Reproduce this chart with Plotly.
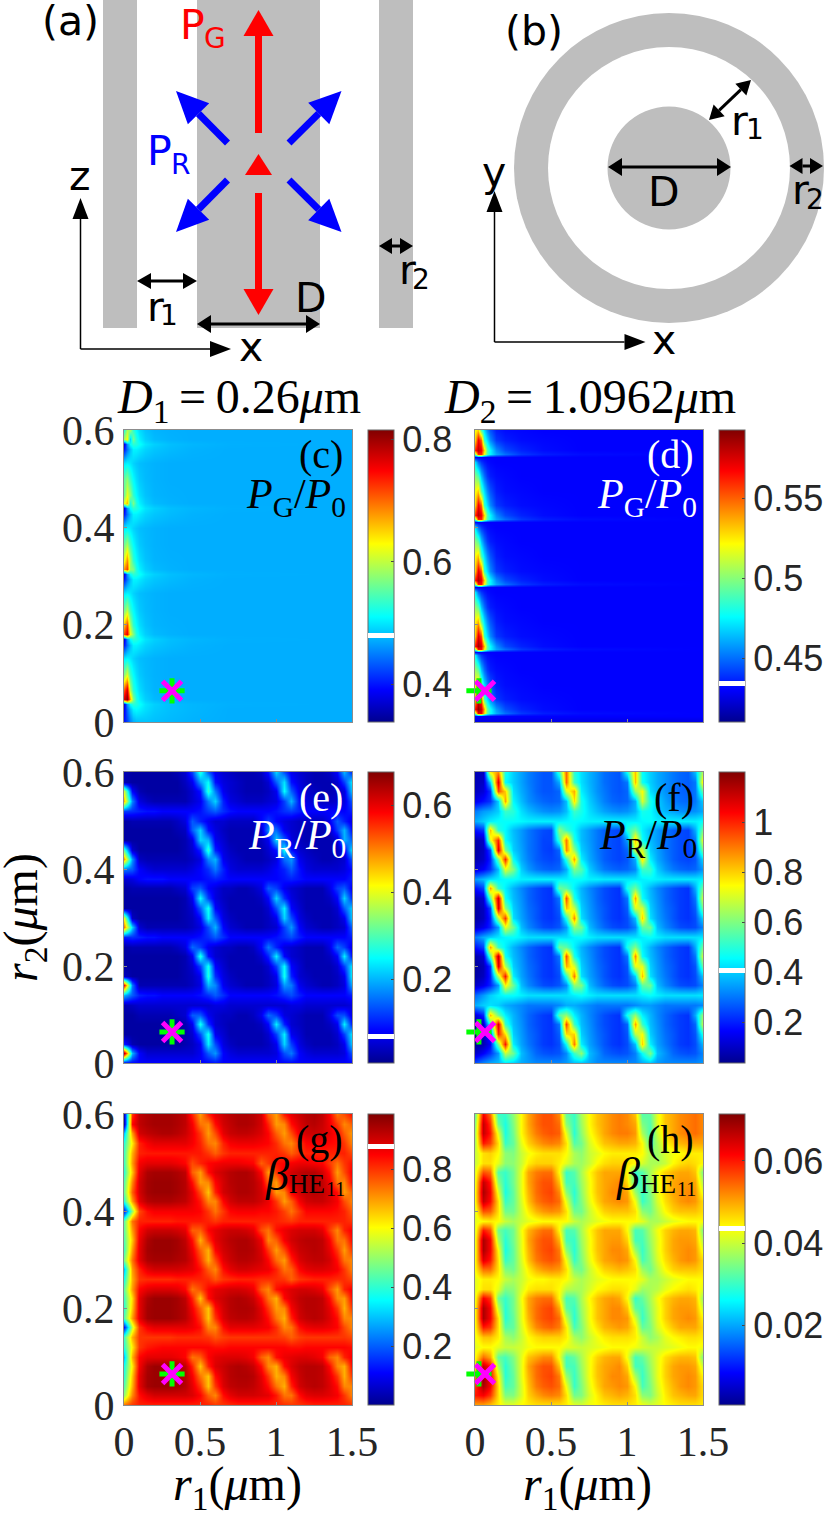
import plotly.graph_objects as go

W = 830
H = 1513

# columns/rows of the left-edge panels (c, d), their features sit close to r1 = 0
edge_r1 = [0, .02, .04, .06, .08, .10, .14, .20, .30, .45, .70, 1.5]
c_r2 = [.60, .582, .572, .56, .532, .499, .467, .449, .439, .427, .399, .365, .333, .315, .305,
        .293, .265, .231, .199, .181, .171, .159, .131, .098, .066, .048, .038, .026, 0]
d_r2 = [.60, .579, .559, .551, .545, .535, .505, .475, .445, .425, .417, .411, .401, .371, .341,
        .311, .291, .283, .277, .267, .237, .207, .177, .157, .149, .143, .137, .107, .077, .047,
        .027, .019, .013, 0]

# columns/rows of the periodic panels (e, f, g, h)
grid_r1 = [0, .05, .1, .15, .2, .25, .3, .35, .4, .45, .5, .55, .6, .65, .7, .75, .8, .85, .9, .95,
           1, 1.05, 1.1, 1.15, 1.2, 1.25, 1.3, 1.35, 1.4, 1.45, 1.5]
grid_r2 = [.60, .58, .56, .54, .52, .50, .48, .46, .44, .42, .40, .38, .36, .34, .32, .30, .28, .26,
           .24, .22, .20, .18, .16, .14, .12, .10, .08, .06, .04, .02, 0]

# P_G/P_0, D1, in units of 0.001, top row first
c_vals = [
    [530, 590, 580, 530, 510, 495, 482, 475, 473, 472, 472, 472],
    [590, 630, 490, 565, 525, 505, 488, 478, 474, 472, 472, 472],
    [375, 460, 510, 530, 525, 515, 498, 488, 480, 476, 473, 472],
    [400, 445, 480, 505, 505, 500, 490, 483, 478, 474, 472, 472],
    [500, 505, 500, 490, 484, 480, 477, 474, 472, 472, 472, 472],
    [555, 575, 535, 510, 495, 485, 478, 474, 472, 472, 472, 472],
    [560, 620, 580, 530, 510, 495, 482, 475, 473, 472, 472, 472],
    [620, 660, 520, 570, 525, 505, 488, 478, 474, 472, 472, 472],
    [375, 460, 510, 530, 525, 515, 498, 488, 480, 476, 473, 472],
    [400, 445, 480, 505, 505, 500, 490, 483, 478, 474, 472, 472],
    [500, 505, 500, 490, 484, 480, 477, 474, 472, 472, 472, 472],
    [560, 585, 535, 510, 495, 485, 478, 474, 472, 472, 472, 472],
    [620, 680, 585, 530, 510, 495, 482, 475, 473, 472, 472, 472],
    [680, 720, 580, 570, 525, 505, 488, 478, 474, 472, 472, 472],
    [375, 460, 510, 530, 525, 515, 498, 488, 480, 476, 473, 472],
    [400, 445, 480, 505, 505, 500, 490, 483, 478, 474, 472, 472],
    [500, 505, 500, 490, 484, 480, 477, 474, 472, 472, 472, 472],
    [565, 595, 535, 510, 495, 485, 478, 474, 472, 472, 472, 472],
    [660, 720, 590, 530, 510, 495, 482, 475, 473, 472, 472, 472],
    [720, 760, 620, 570, 525, 505, 488, 478, 474, 472, 472, 472],
    [375, 460, 510, 530, 525, 515, 498, 488, 480, 476, 473, 472],
    [400, 445, 480, 505, 505, 500, 490, 483, 478, 474, 472, 472],
    [500, 505, 500, 490, 484, 480, 477, 474, 472, 472, 472, 472],
    [570, 610, 535, 510, 495, 485, 478, 474, 472, 472, 472, 472],
    [710, 770, 595, 530, 510, 495, 482, 475, 473, 472, 472, 472],
    [770, 810, 670, 570, 525, 505, 488, 478, 474, 472, 472, 472],
    [375, 460, 510, 530, 525, 515, 498, 488, 480, 476, 473, 472],
    [385, 440, 480, 505, 510, 505, 495, 486, 480, 476, 472, 472],
    [400, 420, 450, 470, 478, 480, 482, 480, 477, 474, 472, 472],
]

# P_G/P_0, D2, in units of 0.001
d_vals = [
    [520, 530, 490, 470, 455, 445, 435, 432, 431, 430, 430, 430],
    [530, 570, 550, 485, 470, 455, 440, 435, 432, 431, 430, 430],
    [560, 580, 570, 530, 490, 475, 455, 443, 436, 432, 430, 430],
    [500, 560, 560, 520, 490, 475, 460, 450, 440, 435, 432, 430],
    [430, 430, 430, 430, 430, 430, 430, 430, 430, 430, 430, 430],
    [470, 450, 440, 435, 432, 431, 430, 430, 430, 430, 430, 430],
    [500, 490, 465, 450, 440, 435, 432, 431, 430, 430, 430, 430],
    [520, 530, 490, 470, 455, 445, 435, 432, 431, 430, 430, 430],
    [530, 570, 550, 485, 470, 455, 440, 435, 432, 431, 430, 430],
    [560, 582, 570, 530, 490, 475, 455, 443, 436, 432, 430, 430],
    [500, 562, 562, 520, 490, 475, 460, 450, 440, 435, 432, 430],
    [430, 430, 430, 430, 430, 430, 430, 430, 430, 430, 430, 430],
    [470, 450, 440, 435, 432, 431, 430, 430, 430, 430, 430, 430],
    [500, 490, 465, 450, 440, 435, 432, 431, 430, 430, 430, 430],
    [522, 532, 490, 470, 455, 445, 435, 432, 431, 430, 430, 430],
    [532, 572, 552, 485, 470, 455, 440, 435, 432, 431, 430, 430],
    [562, 584, 572, 532, 490, 475, 455, 443, 436, 432, 430, 430],
    [500, 564, 564, 522, 490, 475, 460, 450, 440, 435, 432, 430],
    [430, 430, 430, 430, 430, 430, 430, 430, 430, 430, 430, 430],
    [472, 450, 440, 435, 432, 431, 430, 430, 430, 430, 430, 430],
    [502, 492, 465, 450, 440, 435, 432, 431, 430, 430, 430, 430],
    [522, 534, 492, 470, 455, 445, 435, 432, 431, 430, 430, 430],
    [532, 574, 554, 486, 470, 455, 440, 435, 432, 431, 430, 430],
    [564, 586, 574, 534, 492, 476, 456, 443, 436, 432, 430, 430],
    [502, 566, 566, 524, 492, 476, 460, 450, 440, 435, 432, 430],
    [430, 430, 430, 430, 430, 430, 430, 430, 430, 430, 430, 430],
    [474, 452, 440, 435, 432, 431, 430, 430, 430, 430, 430, 430],
    [504, 494, 466, 450, 440, 435, 432, 431, 430, 430, 430, 430],
    [524, 536, 494, 470, 455, 445, 435, 432, 431, 430, 430, 430],
    [534, 576, 556, 488, 470, 455, 440, 435, 432, 431, 430, 430],
    [566, 590, 578, 536, 494, 478, 458, 444, 436, 432, 430, 430],
    [504, 570, 570, 528, 494, 478, 462, 450, 440, 435, 432, 430],
    [430, 430, 430, 430, 430, 430, 430, 430, 430, 430, 430, 430],
    [425, 425, 425, 425, 425, 425, 425, 425, 425, 425, 425, 425],
]

# P_R/P_0, D1, in units of 0.01
e_vals = [
    [3, 2, 2, 2, 2, 2, 2, 3, 5, 12, 27, 14, 7, 5, 4, 3, 3, 3, 4, 9, 22, 13, 7, 5, 4, 3, 3, 4, 8, 20, 10],
    [3, 2, 2, 2, 2, 2, 2, 2, 4, 7, 18, 25, 9, 6, 5, 4, 3, 3, 3, 5, 14, 23, 9, 6, 4, 3, 3, 3, 5, 12, 24],
    [38, 8, 3, 2, 2, 2, 2, 2, 3, 5, 9, 28, 16, 7, 5, 4, 3, 3, 3, 4, 7, 25, 14, 7, 5, 4, 3, 3, 4, 6, 22],
    [46, 17, 6, 4, 3, 3, 3, 3, 3, 5, 7, 16, 22, 10, 6, 5, 4, 4, 4, 5, 6, 12, 20, 9, 6, 5, 4, 4, 5, 6, 14],
    [12, 11, 10, 9, 9, 8, 8, 8, 8, 8, 9, 12, 14, 11, 9, 8, 8, 8, 8, 8, 9, 11, 12, 10, 8, 8, 8, 8, 8, 8, 10],
    [2, 3, 3, 3, 3, 3, 3, 4, 6, 14, 10, 7, 5, 5, 4, 4, 4, 4, 8, 12, 8, 6, 5, 4, 4, 4, 4, 7, 14, 10, 6],
    [2, 2, 2, 2, 2, 2, 2, 3, 4, 14, 22, 9, 6, 4, 3, 3, 3, 3, 5, 17, 15, 7, 5, 4, 3, 3, 3, 4, 12, 20, 8],
    [2, 2, 2, 2, 2, 2, 2, 2, 3, 6, 22, 20, 7, 5, 3, 3, 3, 3, 4, 7, 22, 14, 6, 4, 3, 3, 3, 3, 5, 20, 14],
    [30, 5, 2, 2, 2, 2, 2, 2, 3, 5, 10, 28, 10, 6, 4, 3, 3, 3, 3, 5, 9, 25, 9, 5, 4, 3, 3, 3, 4, 7, 24],
    [48, 18, 4, 3, 3, 3, 3, 3, 3, 4, 6, 17, 20, 7, 5, 4, 3, 3, 3, 4, 6, 15, 18, 7, 5, 4, 3, 3, 4, 5, 14],
    [16, 14, 8, 6, 5, 5, 5, 5, 5, 6, 8, 11, 16, 10, 6, 5, 5, 5, 5, 6, 8, 10, 14, 9, 6, 5, 5, 5, 5, 6, 9],
    [5, 6, 8, 9, 9, 9, 8, 8, 8, 8, 8, 9, 10, 9, 8, 8, 8, 8, 8, 8, 8, 9, 10, 9, 8, 8, 8, 8, 8, 8, 10],
    [2, 3, 3, 3, 3, 3, 3, 4, 5, 12, 14, 8, 6, 4, 4, 3, 3, 4, 6, 14, 12, 7, 5, 4, 3, 3, 3, 6, 12, 14, 7],
    [2, 2, 2, 2, 2, 2, 2, 2, 3, 7, 25, 12, 6, 4, 3, 3, 3, 3, 4, 8, 22, 11, 6, 4, 3, 3, 3, 4, 8, 22, 10],
    [2, 2, 2, 2, 2, 2, 2, 2, 3, 5, 14, 26, 8, 5, 3, 3, 3, 3, 3, 5, 13, 24, 8, 5, 3, 3, 3, 3, 5, 14, 22],
    [40, 4, 2, 2, 2, 2, 2, 2, 3, 4, 8, 24, 14, 6, 4, 3, 3, 3, 3, 4, 7, 22, 13, 6, 4, 3, 3, 3, 4, 7, 22],
    [50, 22, 5, 3, 3, 3, 3, 3, 3, 4, 6, 13, 20, 8, 5, 4, 3, 3, 3, 4, 5, 12, 18, 8, 5, 4, 3, 3, 4, 5, 15],
    [10, 11, 10, 9, 9, 8, 8, 8, 8, 8, 9, 11, 14, 11, 8, 8, 8, 8, 8, 8, 9, 11, 13, 10, 8, 8, 8, 8, 8, 8, 10],
    [2, 3, 3, 3, 3, 3, 3, 4, 6, 15, 12, 7, 5, 4, 4, 3, 3, 4, 8, 16, 10, 6, 5, 4, 3, 3, 3, 6, 15, 12, 6],
    [2, 2, 2, 2, 2, 2, 2, 2, 3, 7, 27, 9, 5, 4, 3, 3, 3, 3, 5, 10, 24, 8, 5, 4, 3, 3, 3, 4, 8, 24, 8],
    [2, 2, 2, 2, 2, 2, 2, 2, 3, 5, 12, 26, 8, 5, 3, 3, 3, 3, 3, 5, 12, 25, 8, 5, 3, 3, 3, 3, 5, 12, 24],
    [4, 2, 2, 2, 2, 2, 2, 2, 3, 4, 7, 27, 11, 6, 4, 3, 3, 3, 3, 4, 7, 26, 10, 5, 4, 3, 3, 3, 4, 7, 25],
    [58, 16, 3, 3, 3, 3, 3, 3, 3, 4, 6, 20, 17, 7, 5, 4, 3, 3, 3, 4, 6, 18, 16, 7, 5, 4, 3, 3, 4, 6, 20],
    [20, 14, 10, 9, 9, 8, 8, 8, 8, 8, 9, 11, 14, 11, 8, 8, 8, 8, 8, 8, 9, 11, 13, 10, 8, 8, 8, 8, 8, 8, 10],
    [3, 4, 5, 5, 5, 5, 5, 5, 5, 5, 5, 5, 6, 6, 5, 5, 5, 5, 5, 5, 5, 5, 6, 6, 5, 5, 5, 5, 5, 5, 6],
    [2, 2, 3, 3, 3, 3, 3, 4, 5, 14, 14, 7, 5, 4, 4, 3, 3, 4, 7, 15, 12, 6, 5, 4, 3, 3, 3, 6, 13, 13, 6],
    [2, 2, 2, 2, 2, 2, 2, 2, 3, 7, 26, 11, 5, 4, 3, 3, 3, 3, 4, 8, 24, 10, 5, 4, 3, 3, 3, 4, 7, 24, 9],
    [2, 2, 2, 2, 2, 2, 2, 2, 3, 5, 13, 26, 7, 5, 3, 3, 3, 3, 3, 5, 12, 24, 7, 5, 3, 3, 3, 3, 5, 12, 24],
    [10, 3, 2, 2, 2, 2, 2, 2, 3, 4, 7, 24, 13, 6, 4, 3, 3, 3, 3, 4, 7, 22, 12, 6, 4, 3, 3, 3, 4, 7, 22],
    [64, 20, 8, 5, 5, 5, 5, 5, 5, 5, 7, 14, 18, 8, 6, 5, 5, 5, 5, 5, 6, 13, 16, 8, 6, 5, 5, 5, 5, 6, 14],
    [6, 8, 8, 8, 8, 8, 8, 8, 8, 8, 8, 8, 9, 8, 8, 8, 8, 8, 8, 8, 8, 8, 8, 8, 8, 8, 8, 8, 8, 8, 8],
]

# P_R/P_0, D2, in units of 0.01
f_vals = [
    [8, 9, 75, 88, 48, 40, 35, 31, 28, 26, 26, 52, 92, 50, 42, 37, 33, 29, 27, 26, 47, 82, 46, 40, 36, 33, 30, 28, 27, 38, 68],
    [8, 10, 40, 108, 46, 40, 35, 31, 28, 26, 26, 36, 92, 52, 42, 37, 33, 29, 27, 26, 30, 82, 47, 40, 36, 33, 30, 28, 27, 30, 80],
    [9, 12, 22, 95, 80, 42, 36, 32, 28, 26, 26, 28, 70, 84, 44, 38, 33, 30, 27, 26, 28, 62, 74, 42, 37, 33, 30, 28, 27, 30, 58],
    [14, 18, 22, 40, 85, 45, 38, 33, 30, 28, 27, 28, 38, 78, 48, 40, 35, 31, 28, 27, 28, 36, 70, 48, 40, 35, 31, 29, 28, 30, 40],
    [30, 34, 36, 40, 52, 50, 42, 38, 35, 33, 32, 33, 38, 52, 48, 42, 38, 35, 33, 32, 33, 37, 48, 46, 40, 37, 35, 33, 32, 33, 36],
    [36, 40, 44, 46, 46, 46, 45, 44, 44, 44, 44, 44, 45, 46, 45, 44, 44, 44, 44, 44, 44, 44, 45, 46, 44, 44, 44, 44, 44, 44, 46],
    [18, 22, 82, 50, 45, 38, 34, 30, 27, 25, 24, 62, 52, 45, 38, 34, 30, 27, 25, 24, 50, 58, 44, 38, 34, 30, 27, 25, 24, 36, 60],
    [7, 10, 70, 100, 46, 39, 34, 30, 27, 24, 24, 52, 90, 48, 38, 34, 30, 27, 25, 24, 34, 82, 46, 38, 34, 30, 27, 25, 24, 30, 75],
    [6, 9, 24, 108, 60, 40, 35, 30, 27, 24, 23, 28, 88, 62, 40, 35, 30, 27, 25, 24, 28, 68, 70, 40, 35, 30, 27, 25, 24, 28, 60],
    [7, 10, 20, 58, 100, 46, 36, 31, 27, 25, 24, 26, 50, 85, 44, 36, 31, 27, 25, 24, 26, 36, 78, 44, 36, 31, 27, 25, 24, 26, 42],
    [12, 16, 22, 38, 72, 60, 40, 34, 30, 28, 27, 28, 36, 60, 55, 40, 34, 30, 28, 27, 28, 32, 52, 52, 40, 34, 30, 28, 27, 28, 34],
    [34, 38, 42, 44, 46, 46, 44, 44, 44, 44, 44, 44, 44, 46, 46, 44, 44, 43, 43, 43, 43, 43, 44, 45, 44, 43, 43, 43, 43, 43, 44],
    [18, 24, 85, 52, 44, 37, 32, 28, 25, 23, 22, 58, 55, 44, 37, 32, 28, 25, 23, 22, 48, 58, 44, 37, 32, 28, 25, 23, 22, 36, 60],
    [8, 11, 55, 110, 47, 38, 33, 28, 25, 23, 22, 30, 95, 48, 38, 33, 28, 25, 23, 22, 30, 85, 46, 38, 33, 28, 25, 23, 22, 30, 72],
    [6, 9, 24, 108, 62, 40, 34, 29, 26, 23, 22, 27, 82, 68, 40, 34, 29, 26, 23, 22, 27, 70, 70, 40, 34, 29, 26, 23, 22, 27, 60],
    [6, 9, 20, 66, 98, 42, 35, 30, 26, 23, 22, 25, 48, 88, 42, 35, 30, 26, 23, 22, 25, 38, 80, 42, 35, 30, 26, 23, 22, 25, 42],
    [10, 14, 20, 34, 72, 58, 38, 32, 28, 25, 24, 26, 34, 62, 58, 38, 32, 28, 25, 24, 25, 31, 56, 58, 38, 32, 28, 25, 24, 25, 32],
    [30, 36, 40, 43, 45, 46, 44, 42, 42, 42, 42, 42, 42, 45, 46, 44, 42, 42, 42, 42, 42, 42, 44, 46, 44, 42, 42, 42, 42, 42, 43],
    [18, 24, 85, 52, 44, 37, 32, 28, 25, 23, 22, 58, 56, 44, 37, 32, 28, 25, 23, 22, 48, 60, 44, 37, 32, 28, 25, 23, 22, 36, 60],
    [7, 11, 55, 112, 47, 38, 33, 28, 25, 23, 22, 30, 95, 48, 38, 33, 28, 25, 23, 22, 30, 88, 46, 38, 33, 28, 25, 23, 22, 30, 72],
    [5, 8, 22, 108, 66, 40, 34, 29, 26, 23, 22, 27, 84, 70, 40, 34, 29, 26, 23, 22, 26, 72, 72, 40, 34, 29, 26, 23, 22, 26, 58],
    [6, 9, 20, 66, 102, 44, 35, 30, 26, 23, 22, 25, 50, 90, 42, 35, 30, 26, 23, 22, 25, 40, 82, 42, 35, 30, 26, 23, 22, 25, 40],
    [10, 14, 20, 34, 76, 58, 38, 32, 28, 25, 24, 26, 32, 62, 60, 38, 32, 28, 25, 24, 25, 31, 56, 58, 38, 32, 28, 25, 24, 25, 32],
    [28, 34, 40, 44, 46, 46, 44, 42, 42, 42, 42, 42, 42, 44, 46, 44, 42, 42, 42, 42, 42, 42, 44, 46, 44, 42, 42, 42, 42, 42, 43],
    [36, 40, 42, 40, 36, 34, 32, 30, 30, 30, 30, 32, 36, 36, 34, 32, 30, 30, 30, 30, 30, 32, 34, 34, 32, 30, 30, 30, 30, 30, 32],
    [12, 20, 82, 58, 44, 37, 32, 28, 25, 23, 22, 56, 62, 44, 37, 32, 28, 25, 23, 22, 48, 62, 44, 37, 32, 28, 25, 23, 22, 36, 64],
    [6, 9, 50, 108, 52, 38, 33, 28, 25, 23, 22, 30, 96, 52, 38, 33, 28, 25, 23, 22, 28, 85, 52, 38, 33, 28, 25, 23, 22, 28, 70],
    [5, 8, 22, 100, 78, 40, 34, 29, 26, 23, 22, 27, 78, 80, 40, 34, 29, 26, 23, 22, 26, 66, 74, 40, 34, 29, 26, 23, 22, 26, 50],
    [5, 8, 16, 60, 102, 44, 35, 30, 26, 23, 22, 25, 46, 90, 44, 35, 30, 26, 23, 22, 25, 38, 80, 44, 35, 30, 26, 23, 22, 25, 38],
    [10, 16, 22, 34, 68, 58, 38, 33, 28, 26, 25, 26, 32, 52, 62, 38, 33, 28, 26, 25, 26, 31, 46, 60, 38, 33, 28, 26, 25, 26, 32],
    [26, 32, 36, 38, 42, 40, 36, 34, 32, 32, 32, 32, 34, 38, 38, 36, 32, 32, 32, 32, 32, 32, 36, 38, 34, 32, 32, 32, 32, 32, 34],
]

# beta, D1, in units of 0.01
g_vals = [
    [6, 80, 92, 94, 95, 95, 95, 94, 92, 82, 70, 82, 88, 91, 93, 94, 94, 93, 90, 76, 70, 83, 88, 91, 93, 94, 92, 86, 74, 78, 84],
    [4, 85, 92, 94, 95, 95, 95, 94, 92, 86, 74, 72, 84, 90, 92, 94, 94, 93, 90, 82, 70, 72, 84, 89, 92, 93, 91, 87, 80, 72, 76],
    [30, 70, 90, 92, 93, 94, 94, 93, 91, 87, 80, 70, 78, 88, 91, 92, 92, 91, 89, 85, 76, 70, 78, 87, 90, 91, 90, 88, 84, 76, 70],
    [40, 62, 82, 86, 88, 88, 88, 88, 88, 86, 82, 74, 72, 82, 86, 87, 87, 87, 86, 85, 81, 74, 72, 80, 85, 86, 86, 85, 84, 80, 72],
    [42, 68, 82, 83, 83, 83, 83, 83, 83, 83, 83, 80, 76, 80, 82, 82, 82, 82, 82, 82, 82, 80, 76, 80, 82, 82, 82, 82, 82, 82, 78],
    [42, 70, 86, 88, 88, 88, 88, 87, 85, 78, 82, 85, 86, 87, 87, 87, 86, 85, 76, 80, 84, 85, 86, 87, 87, 86, 85, 80, 74, 80, 84],
    [40, 66, 88, 94, 95, 95, 95, 94, 92, 76, 70, 84, 89, 91, 93, 94, 94, 92, 85, 70, 80, 87, 90, 92, 93, 93, 90, 84, 70, 78, 86],
    [44, 72, 90, 95, 96, 96, 96, 95, 93, 84, 70, 72, 85, 90, 93, 94, 94, 93, 89, 76, 70, 85, 90, 92, 93, 93, 92, 87, 74, 72, 85],
    [46, 76, 90, 95, 96, 96, 96, 95, 93, 88, 78, 66, 82, 90, 92, 94, 94, 93, 90, 84, 70, 72, 86, 90, 92, 93, 92, 89, 84, 70, 76],
    [40, 70, 88, 93, 94, 94, 94, 93, 92, 88, 83, 72, 72, 85, 90, 92, 92, 92, 90, 87, 80, 70, 76, 86, 90, 91, 91, 89, 86, 78, 72],
    [12, 50, 78, 84, 86, 86, 86, 86, 86, 86, 85, 80, 74, 80, 85, 86, 86, 86, 85, 85, 83, 79, 74, 80, 85, 85, 85, 85, 84, 82, 76],
    [45, 74, 82, 82, 82, 82, 82, 83, 83, 83, 83, 82, 80, 82, 82, 82, 82, 82, 82, 82, 82, 81, 80, 82, 82, 82, 82, 82, 82, 82, 80],
    [45, 70, 85, 90, 91, 91, 91, 90, 88, 76, 76, 85, 88, 90, 91, 91, 90, 88, 78, 74, 84, 87, 89, 90, 90, 90, 88, 80, 72, 82, 86],
    [44, 66, 87, 94, 96, 96, 96, 95, 92, 84, 68, 80, 88, 91, 93, 94, 94, 92, 87, 72, 76, 86, 90, 92, 93, 93, 92, 86, 74, 74, 85],
    [42, 70, 88, 95, 96, 96, 96, 95, 93, 87, 76, 68, 85, 90, 92, 94, 94, 93, 89, 80, 70, 78, 87, 91, 92, 93, 92, 88, 80, 70, 80],
    [48, 74, 88, 94, 95, 95, 95, 94, 93, 89, 80, 68, 78, 88, 91, 93, 93, 92, 90, 85, 75, 70, 82, 89, 91, 92, 92, 90, 84, 74, 72],
    [30, 70, 82, 88, 90, 90, 90, 90, 89, 88, 84, 76, 72, 84, 88, 90, 90, 89, 88, 87, 82, 74, 76, 85, 88, 89, 89, 88, 86, 80, 72],
    [38, 68, 80, 81, 81, 81, 81, 82, 82, 82, 82, 81, 77, 80, 81, 82, 82, 82, 81, 81, 81, 80, 76, 80, 81, 82, 82, 82, 81, 81, 78],
    [45, 70, 85, 88, 89, 89, 89, 88, 85, 74, 78, 85, 88, 89, 90, 90, 89, 87, 76, 72, 84, 87, 89, 90, 90, 89, 87, 78, 70, 82, 86],
    [42, 64, 88, 94, 96, 96, 96, 95, 92, 82, 66, 84, 89, 91, 93, 94, 93, 91, 84, 74, 68, 85, 89, 92, 93, 93, 92, 85, 72, 70, 85],
    [40, 66, 88, 95, 96, 96, 96, 95, 93, 86, 76, 66, 84, 90, 93, 94, 94, 93, 88, 80, 70, 72, 86, 91, 93, 93, 92, 88, 80, 68, 80],
    [44, 70, 88, 95, 96, 96, 96, 95, 93, 88, 80, 66, 80, 89, 92, 93, 93, 92, 89, 84, 74, 68, 82, 90, 92, 93, 92, 89, 84, 72, 72],
    [12, 55, 80, 86, 88, 88, 88, 88, 88, 87, 84, 72, 72, 84, 88, 88, 88, 88, 87, 86, 81, 72, 74, 84, 87, 88, 88, 87, 85, 78, 72],
    [42, 68, 80, 80, 80, 80, 80, 81, 81, 81, 81, 80, 77, 79, 80, 80, 80, 80, 80, 80, 80, 79, 76, 79, 80, 80, 80, 80, 80, 80, 78],
    [40, 62, 80, 83, 84, 85, 85, 85, 85, 85, 85, 85, 84, 84, 85, 85, 85, 85, 85, 85, 85, 85, 84, 84, 85, 85, 85, 85, 85, 85, 84],
    [30, 68, 85, 88, 88, 88, 88, 87, 85, 74, 76, 85, 88, 89, 89, 89, 88, 86, 76, 72, 84, 87, 88, 89, 89, 88, 86, 76, 72, 82, 86],
    [38, 62, 86, 94, 96, 96, 96, 95, 92, 82, 66, 82, 89, 91, 93, 94, 93, 91, 84, 72, 68, 84, 89, 92, 93, 93, 92, 85, 72, 68, 85],
    [40, 66, 88, 95, 96, 96, 96, 95, 93, 86, 74, 66, 84, 90, 93, 94, 94, 93, 88, 80, 68, 72, 86, 91, 93, 93, 92, 88, 80, 68, 80],
    [44, 68, 88, 95, 96, 96, 96, 95, 93, 88, 80, 66, 80, 89, 92, 93, 93, 92, 89, 84, 74, 68, 82, 90, 92, 93, 92, 89, 84, 72, 72],
    [50, 72, 84, 88, 90, 90, 90, 90, 90, 89, 85, 76, 72, 84, 88, 90, 90, 90, 89, 88, 83, 74, 74, 84, 88, 89, 89, 88, 86, 80, 72],
    [75, 80, 82, 82, 82, 82, 82, 82, 82, 82, 82, 82, 80, 80, 81, 82, 82, 82, 82, 82, 82, 81, 80, 80, 81, 82, 82, 82, 82, 82, 80],
]

# beta, D2, in units of 0.001
h_vals = [
    [34, 62, 54, 30, 30, 36, 44, 50, 54, 56, 56, 52, 33, 30, 38, 44, 48, 50, 52, 53, 52, 48, 32, 33, 42, 48, 50, 52, 53, 54, 52],
    [36, 66, 58, 34, 28, 35, 44, 50, 54, 56, 56, 54, 36, 30, 37, 44, 48, 50, 52, 53, 52, 50, 35, 32, 42, 48, 50, 52, 53, 54, 52],
    [38, 66, 60, 42, 28, 34, 44, 49, 53, 55, 56, 55, 42, 29, 36, 43, 47, 50, 52, 53, 53, 51, 38, 31, 40, 47, 50, 52, 53, 54, 52],
    [38, 60, 57, 46, 30, 33, 42, 47, 50, 52, 53, 52, 46, 32, 34, 41, 45, 48, 49, 50, 50, 49, 44, 32, 38, 44, 47, 49, 50, 50, 50],
    [40, 46, 47, 44, 36, 35, 40, 43, 45, 46, 46, 46, 44, 38, 36, 40, 42, 44, 45, 45, 45, 45, 44, 38, 37, 41, 43, 44, 45, 45, 45],
    [40, 46, 46, 42, 36, 36, 40, 45, 47, 47, 47, 45, 42, 38, 37, 40, 44, 46, 47, 47, 46, 44, 41, 38, 38, 40, 44, 46, 47, 46, 44],
    [42, 56, 54, 32, 30, 34, 42, 50, 53, 54, 54, 44, 30, 32, 38, 44, 48, 50, 50, 50, 44, 30, 32, 38, 43, 47, 49, 50, 50, 48, 34],
    [43, 66, 60, 36, 29, 34, 42, 50, 54, 56, 56, 48, 31, 31, 37, 43, 48, 50, 51, 52, 46, 31, 31, 37, 42, 47, 50, 51, 51, 50, 38],
    [44, 68, 62, 42, 28, 33, 42, 49, 54, 56, 57, 52, 36, 29, 36, 43, 48, 50, 52, 52, 50, 37, 30, 35, 42, 47, 50, 51, 52, 51, 42],
    [44, 66, 61, 46, 30, 33, 41, 48, 53, 55, 56, 54, 42, 30, 35, 42, 47, 50, 51, 52, 51, 43, 30, 34, 41, 46, 49, 51, 52, 51, 46],
    [42, 56, 55, 46, 34, 34, 40, 45, 49, 51, 52, 51, 46, 34, 34, 40, 44, 47, 48, 48, 48, 46, 36, 34, 39, 44, 47, 48, 48, 48, 46],
    [42, 44, 45, 44, 40, 38, 40, 42, 43, 44, 44, 44, 44, 40, 38, 40, 42, 43, 44, 44, 44, 44, 42, 38, 38, 40, 42, 43, 44, 44, 44],
    [42, 60, 56, 34, 31, 34, 43, 49, 52, 54, 54, 44, 31, 32, 38, 44, 48, 50, 50, 50, 44, 31, 32, 38, 43, 47, 49, 50, 50, 49, 34],
    [43, 68, 62, 38, 29, 34, 42, 50, 54, 56, 56, 49, 31, 30, 37, 43, 48, 50, 51, 51, 47, 31, 31, 37, 42, 47, 50, 51, 51, 50, 38],
    [43, 68, 62, 44, 28, 33, 42, 49, 54, 56, 57, 53, 36, 29, 36, 43, 48, 50, 52, 52, 50, 37, 30, 36, 42, 47, 50, 51, 52, 51, 42],
    [44, 64, 60, 46, 30, 33, 41, 48, 53, 55, 56, 54, 43, 30, 35, 42, 47, 50, 51, 52, 51, 44, 31, 35, 41, 46, 49, 51, 52, 51, 46],
    [44, 54, 54, 46, 35, 34, 40, 45, 49, 51, 52, 51, 46, 35, 34, 40, 44, 47, 48, 49, 48, 46, 37, 34, 39, 44, 47, 48, 48, 48, 46],
    [42, 45, 45, 44, 40, 38, 40, 43, 44, 44, 45, 45, 44, 40, 38, 40, 42, 43, 44, 44, 44, 44, 42, 38, 38, 40, 42, 43, 44, 44, 44],
    [42, 46, 46, 42, 35, 36, 41, 45, 46, 46, 46, 44, 39, 38, 38, 41, 44, 45, 46, 46, 45, 42, 37, 38, 39, 42, 44, 45, 46, 45, 42],
    [43, 62, 58, 34, 30, 34, 43, 50, 53, 54, 54, 44, 31, 32, 38, 44, 48, 50, 51, 50, 44, 30, 33, 38, 43, 47, 49, 50, 50, 49, 36],
    [44, 68, 62, 40, 29, 34, 42, 50, 54, 56, 57, 50, 33, 30, 37, 43, 48, 50, 52, 52, 48, 33, 31, 37, 42, 47, 50, 51, 51, 50, 40],
    [44, 68, 62, 46, 29, 33, 42, 49, 54, 56, 57, 54, 40, 29, 36, 43, 48, 50, 52, 52, 51, 41, 30, 36, 42, 47, 50, 51, 52, 51, 44],
    [44, 60, 58, 46, 32, 33, 41, 47, 52, 54, 55, 53, 45, 31, 35, 42, 46, 49, 50, 51, 50, 45, 33, 35, 41, 45, 48, 50, 50, 50, 46],
    [43, 48, 48, 45, 38, 36, 40, 44, 46, 47, 47, 47, 45, 38, 36, 40, 43, 45, 46, 46, 46, 45, 40, 36, 38, 42, 44, 45, 46, 46, 45],
    [42, 44, 44, 42, 40, 40, 41, 43, 44, 44, 44, 44, 42, 41, 40, 41, 42, 43, 44, 44, 44, 43, 41, 40, 40, 41, 42, 43, 44, 44, 43],
    [44, 54, 50, 33, 31, 35, 42, 48, 50, 52, 52, 43, 31, 33, 38, 43, 47, 49, 50, 50, 43, 31, 33, 38, 42, 46, 48, 49, 49, 48, 34],
    [46, 66, 60, 38, 29, 34, 42, 50, 54, 56, 56, 48, 31, 31, 37, 43, 48, 50, 51, 52, 47, 31, 31, 37, 42, 47, 50, 51, 51, 50, 40],
    [52, 70, 62, 44, 29, 33, 42, 49, 54, 56, 57, 53, 37, 30, 36, 43, 48, 50, 52, 52, 50, 38, 30, 36, 42, 47, 50, 51, 52, 51, 44],
    [58, 68, 62, 46, 31, 33, 41, 48, 53, 55, 56, 54, 43, 30, 35, 42, 47, 50, 51, 52, 51, 44, 31, 35, 41, 46, 49, 51, 52, 51, 46],
    [60, 62, 58, 46, 35, 35, 41, 47, 50, 52, 53, 52, 46, 34, 35, 41, 45, 48, 49, 50, 49, 46, 36, 35, 40, 45, 48, 49, 50, 50, 46],
    [50, 50, 48, 45, 42, 42, 44, 45, 46, 46, 46, 46, 45, 42, 41, 43, 44, 45, 46, 46, 46, 45, 43, 41, 42, 44, 45, 46, 46, 46, 45],
]

# colour limits and the white mark on each colour bar
zlims = {'c': (.338, .816), 'd': (.41, .593), 'e': (.007, .676), 'f': (.036, 1.2), 'g': (0, .99), 'h': (.0008, .0714)}
notches = {'c': .479, 'd': .434, 'e': .067, 'f': .408, 'g': .878, 'h': .0436}
cb_ticks = {'c': [.4, .6, .8], 'd': [.45, .5, .55], 'e': [.2, .4, .6], 'f': [.2, .4, .6, .8, 1],
            'g': [.2, .4, .6, .8], 'h': [.02, .04, .06]}
cb_labels = {'c': ['0.4', '0.6', '0.8'], 'd': ['0.45', '0.5', '0.55'], 'e': ['0.2', '0.4', '0.6'],
             'f': ['0.2', '0.4', '0.6', '0.8', '1'], 'g': ['0.2', '0.4', '0.6', '0.8'],
             'h': ['0.02', '0.04', '0.06']}

# operating points: [r1, r2]
green_pts = {'c': (.316, .064), 'd': (.026, .064), 'e': (.316, .064), 'f': (.026, .064), 'g': (.316, .064), 'h': (.026, .064)}
magenta_pts = {'c': (.316, .064), 'd': (.066, .064), 'e': (.316, .064), 'f': (.066, .064), 'g': (.316, .064), 'h': (.066, .064)}

x_ticks = [0, .5, 1, 1.5]
x_labels = ['0', '0.5', '1', '1.5']
y_ticks = [0, .2, .4, .6]
y_labels = ['0', '0.2', '0.4', '0.6']

JET = [[0, '#00008f'], [.11, '#0000ff'], [.36, '#00ffff'], [.61, '#ffff00'], [.86, '#ff0000'], [1, '#800000']]
SERIF = 'Liberation Serif'
SANS = 'DejaVu Sans'
GRAY = '#bebebe'
DARK = '#262626'
FRAME = '#8c8c8c'

# pixel boxes: left, right, top, bottom
panels = {
    'c': (124, 352, 430, 722, c_vals, edge_r1, c_r2, .001),
    'd': (475, 703, 430, 722, d_vals, edge_r1, d_r2, .001),
    'e': (124, 352, 772, 1063, e_vals, grid_r1, grid_r2, .01),
    'f': (475, 703, 772, 1063, f_vals, grid_r1, grid_r2, .01),
    'g': (124, 352, 1114, 1405, g_vals, grid_r1, grid_r2, .01),
    'h': (475, 703, 1114, 1405, h_vals, grid_r1, grid_r2, .001),
}


def fx(px):
    return px / W


def fy(py):
    return 1 - py / H


shapes = []
annotations = []


def text(x, y, s, size, color='black', font=SANS, anchor='center', angle=0):
    annotations.append(dict(x=fx(x), y=fy(y), xref='paper', yref='paper', text=s, showarrow=False,
                            xanchor=anchor, yanchor='middle', textangle=angle,
                            font=dict(family=font, size=size, color=color)))


def rect(x0, y0, x1, y1, color=GRAY):
    shapes.append(dict(type='rect', xref='paper', yref='paper', x0=fx(x0), x1=fx(x1), y0=fy(y0), y1=fy(y1),
                       fillcolor=color, line_width=0, layer='above'))


def disk(cx, cy, r, color):
    shapes.append(dict(type='circle', xref='paper', yref='paper', x0=fx(cx - r), x1=fx(cx + r),
                       y0=fy(cy - r), y1=fy(cy + r), fillcolor=color, line_width=0, layer='above'))


def head(tipx, tipy, fromx, fromy, length, half, color):
    d = ((tipx - fromx) ** 2 + (tipy - fromy) ** 2) ** .5
    ux, uy = (tipx - fromx) / d, (tipy - fromy) / d
    bx, by = tipx - ux * length, tipy - uy * length
    ax, ay = bx - uy * half, by + ux * half
    cx, cy = bx + uy * half, by - ux * half
    shapes.append(dict(type='path', xref='paper', yref='paper',
                       path=f'M {fx(tipx)} {fy(tipy)} L {fx(ax)} {fy(ay)} L {fx(cx)} {fy(cy)} Z',
                       fillcolor=color, line_width=0, layer='above'))
    return bx, by


def arrow(x0, y0, x1, y1, color, width, length, half, both=False):
    bx, by = head(x1, y1, x0, y0, length, half, color)
    sx, sy = x0, y0
    if both:
        sx, sy = head(x0, y0, x1, y1, length, half, color)
    shapes.append(dict(type='line', xref='paper', yref='paper', x0=fx(sx), y0=fy(sy), x1=fx(bx), y1=fy(by),
                       line=dict(color=color, width=width), layer='above'))


# panel (a): the strips
rect(103, 0, 137, 328)
rect(197, 0, 320, 328)
rect(379, 0, 413, 328)
arrow(258.5, 133, 258.5, 10, 'red', 7, 26, 15)
arrow(258.5, 193, 258.5, 315, 'red', 7, 26, 15)
head(258.5, 154, 258.5, 175, 21, 13.5, 'red')
for tip in [(176, 91), (341.5, 91), (176, 232), (341.5, 232)]:
    start = (227.5 if tip[0] < 258 else 289, 143 if tip[1] < 160 else 180)
    arrow(start[0], start[1], tip[0], tip[1], 'blue', 7, 32, 15)
arrow(137, 281, 197, 281, 'black', 3, 14, 8, both=True)
arrow(197, 324, 320, 324, 'black', 3, 14, 9, both=True)
arrow(379, 246, 413, 246, 'black', 3, 13, 8, both=True)
arrow(80.5, 349, 80.5, 198, 'black', 1.5, 21, 8)
arrow(80.5, 349, 231, 349, 'black', 1.5, 21, 8)

# panel (b): the fibre cross-section
disk(669, 168, 155, GRAY)
disk(669, 168, 121, 'white')
disk(669, 168, 61.5, GRAY)
arrow(709, 120, 751, 80, 'black', 3, 14, 8, both=True)
arrow(608, 167, 731, 167, 'black', 3, 14, 9, both=True)
arrow(789.5, 166, 823, 166, 'black', 3, 13, 8, both=True)
arrow(494.5, 342, 494.5, 191, 'black', 1.5, 21, 8)
arrow(494.5, 342, 645.5, 342, 'black', 1.5, 21, 8)

text(70, 21, '(a)', 41)
text(534, 31, '(b)', 41)
text(192, 25, 'P', 41, 'red')
text(215, 38, 'G', 28, 'red')
text(159, 151, 'P', 41, 'blue')
text(180, 165, 'R', 28, 'blue')
text(80, 176, 'z', 41)
text(251, 347, 'x', 41)
text(311, 298, 'D', 41)
text(155, 307, 'r', 41)
text(169, 316, '1', 28)
text(407, 270, 'r', 41)
text(421, 279, '2', 28)
text(494, 172, 'y', 41)
text(664, 340, 'x', 41)
text(664, 192, 'D', 41)
text(739, 121, 'r', 41)
text(755, 130, '1', 28)
text(800, 190, 'r', 41)
text(815, 199, '2', 28)

# column headers and shared axis labels
text(239, 400, '<i>D</i><sub>1</sub>\u2009=\u20090.26<i>μ</i>m', 48, font=SERIF)
text(590, 400, '<i>D</i><sub>2</sub>\u2009=\u20091.0962<i>μ</i>m', 48, font=SERIF)
text(24, 918, '<i>r</i><sub>2</sub>(<i>μ</i>m)', 48, font=SERIF, angle=-90)
text(237, 1487, '<i>r</i><sub>1</sub>(<i>μ</i>m)', 48, font=SERIF)
text(587, 1487, '<i>r</i><sub>1</sub>(<i>μ</i>m)', 48, font=SERIF)

fig = go.Figure()
layout = {}
lab_colors = {'c': 'black', 'd': 'white', 'e': 'white', 'f': 'black', 'g': 'black', 'h': 'black'}

for i, key in enumerate(panels):
    left, right, top, bottom, vals, r1s, r2s, unit = panels[key]
    bad = [n for n, row in enumerate(vals) if len(row) != len(r1s)]
    if bad or len(vals) != len(r2s):
        raise ValueError(f'{key}: bad rows {bad}, {len(vals)} rows for {len(r2s)} r2')
    ax = '' if i == 0 else str(i + 1)
    zmin, zmax = zlims[key]
    fig.add_trace(go.Heatmap(
        x=r1s, y=r2s[::-1], z=[[v * unit for v in row] for row in vals[::-1]],
        xaxis='x' + ax, yaxis='y' + ax, zmin=zmin, zmax=zmax, colorscale=JET, zsmooth='best',
        hoverinfo='skip',
        colorbar=dict(x=fx(right + 16), xanchor='left', y=fy((top + bottom) / 2), yanchor='middle',
                      thickness=26, thicknessmode='pixels', len=bottom - top, lenmode='pixels',
                      xpad=0, ypad=0, outlinecolor='#666666', outlinewidth=1, borderwidth=0,
                      ticks='inside', ticklen=3, tickcolor='#444444', tickvals=cb_ticks[key],
                      tickprefix='\u200a', ticktext=cb_labels[key],
                      tickfont=dict(family='Liberation Sans', size=36, color=DARK))))
    gx, gy = green_pts[key]
    mx, my = magenta_pts[key]
    fig.add_trace(go.Scatter(x=[gx], y=[gy], xaxis='x' + ax, yaxis='y' + ax, mode='markers', cliponaxis=False,
                             hoverinfo='skip', showlegend=False,
                             marker=dict(symbol='cross-thin', size=18, line=dict(color='#00ff00', width=5))))
    fig.add_trace(go.Scatter(x=[mx], y=[my], xaxis='x' + ax, yaxis='y' + ax, mode='markers', cliponaxis=False,
                             hoverinfo='skip', showlegend=False,
                             marker=dict(symbol='x-thin', size=19, line=dict(color='#ff00ff', width=5))))
    layout['xaxis' + ax] = dict(domain=[fx(left), fx(right)], anchor='y' + ax, range=[0, 1.5], showgrid=False,
                                zeroline=False, mirror=True, showline=True, linecolor=FRAME, linewidth=1,
                                ticks='inside', ticklen=3, tickcolor=FRAME, tickvals=x_ticks, ticktext=x_labels,
                                showticklabels=key in 'gh', tickfont=dict(family=SERIF, size=42, color=DARK))
    layout['yaxis' + ax] = dict(domain=[fy(bottom), fy(top)], anchor='x' + ax, range=[0, .6], showgrid=False,
                                zeroline=False, mirror=True, showline=True, linecolor=FRAME, linewidth=1,
                                ticks='inside', ticklen=3, tickcolor=FRAME, tickvals=y_ticks, ticktext=y_labels,
                                showticklabels=key in 'ceg', tickfont=dict(family=SERIF, size=42, color=DARK))

    # white mark on the colour bar
    ny = bottom - (notches[key] - zmin) / (zmax - zmin) * (bottom - top)
    annotations.append(dict(x=fx(right + 29), y=fy(ny), xref='paper', yref='paper', text=' ', showarrow=False,
                            xanchor='center', yanchor='middle', width=26, height=5, borderpad=0, borderwidth=0,
                            bgcolor='white', font=dict(size=1)))

    # panel letter and quantity
    text(right - 7, top + 25, f'({key})', 40, lab_colors[key], SERIF, anchor='right')
    if key in 'cd':
        text(right - 4, top + 67, '<i>P</i><sub>G</sub>/<i>P</i><sub>0</sub>', 42, lab_colors[key], SERIF, anchor='right')
    elif key in 'ef':
        text(right - 4, top + 66, '<i>P</i><sub>R</sub>/<i>P</i><sub>0</sub>', 42, lab_colors[key], SERIF, anchor='right')
    else:
        text(right - 5, top + 75, '11', 20, 'black', SERIF, anchor='right')
        text(right - 25, top + 70, 'HE', 27, 'black', SERIF, anchor='right')
        text(right - 61, top + 60, '<i>β</i>', 46, 'black', SERIF, anchor='right')

fig.update_layout(width=W, height=H, margin=dict(l=0, r=0, t=0, b=0, autoexpand=False), paper_bgcolor='white',
                  plot_bgcolor='white', showlegend=False, shapes=shapes, annotations=annotations, **layout)
fig.write_html('out.html', config={'displayModeBar': False},
               post_script="document.body.style.margin='0';document.body.style.overflow='hidden';")
